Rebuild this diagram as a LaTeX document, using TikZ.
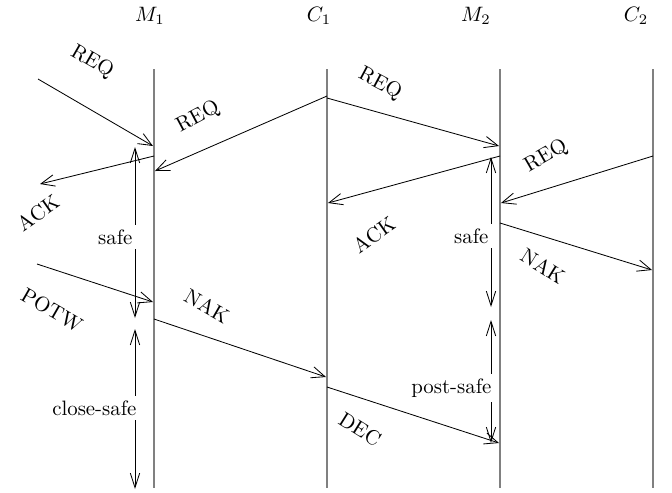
\documentclass[tikz,border=0pt]{standalone}
\usetikzlibrary{arrows.meta}
\begin{document}
\begin{tikzpicture}[x=0.48pt,y=-0.48pt,
  life/.style={draw=black!50, line width=1pt},
  msg/.style={draw, line width=0.4pt, -{Straight Barb[length=6.5pt,width=5.5pt]}},
  dur/.style={draw, line width=0.4pt, {Straight Barb[length=7pt,width=4.5pt]}-{Straight Barb[length=7pt,width=4.5pt]}},
  lbl/.style={inner sep=1pt},
  durlbl/.style={fill=white, anchor=east, inner sep=2pt}]
\useasboundingbox (0,0) rectangle (672,492);
% headers
\node (hM1) at (150,16) {$M_1$};
\node (hC1) at (319,16) {$C_1$};
\node (hM2) at (476,16) {$M_2$};
\node (hC2) at (636,16) {$C_2$};
% lifelines
\coordinate (M1t) at (154,69); \coordinate (M1b) at (154,488);
\coordinate (C1t) at (327,69); \coordinate (C1b) at (327,488);
\coordinate (M2t) at (500,69); \coordinate (M2b) at (500,488);
\coordinate (C2t) at (653,69); \coordinate (C2b) at (653,488);
\draw[life] (M1t) -- (M1b);
\draw[life] (C1t) -- (C1b);
\draw[life] (M2t) -- (M2b);
\draw[life] (C2t) -- (C2b);
% messages
\coordinate (r1s) at (38,79);   \coordinate (r1e) at (153,146);
\coordinate (r2s) at (327,96);  \coordinate (r2e) at (155,171);
\coordinate (a1s) at (154,156); \coordinate (a1e) at (40,184);
\coordinate (r3s) at (327,98);  \coordinate (r3e) at (499,146);
\coordinate (a2s) at (500,156); \coordinate (a2e) at (328,203);
\coordinate (r6s) at (653,156); \coordinate (r6e) at (501,203);
\coordinate (n7s) at (500,223); \coordinate (n7e) at (652,270);
\coordinate (ps) at (37,264);   \coordinate (pe) at (153,302);
\coordinate (n9s) at (154,319); \coordinate (n9e) at (326,377);
\coordinate (ds) at (327,387);  \coordinate (de) at (499,443);
\draw[msg] (r1s) -- (r1e);
\draw[msg] (r2s) -- (r2e);
\draw[msg] (a1s) -- (a1e);
\draw[msg] (r3s) -- (r3e);
\draw[msg] (a2s) -- (a2e);
\draw[msg] (r6s) -- (r6e);
\draw[msg] (n7s) -- (n7e);
\draw[msg] (ps) -- (pe);
\draw[msg] (n9s) -- (n9e);
\draw[msg] (ds) -- (de);
% message labels
\node[lbl, rotate=-30] (lr1) at (92,62) {REQ};
\node[lbl, rotate=28] (lr2) at (198,117) {REQ};
\node[lbl, rotate=-28] (lr3) at (380,84) {REQ};
\node[lbl, rotate=35] (la1) at (38,213) {ACK};
\node[lbl, rotate=35] (la2) at (374,235) {ACK};
\node[lbl, rotate=30] (lr6) at (546,156) {REQ};
\node[lbl, rotate=-32] (ln7) at (543,266) {NAK};
\node[lbl, rotate=-30] (lp) at (52,310) {POTW};
\node[lbl, rotate=-30] (ln9) at (207,306) {NAK};
\node[lbl, rotate=-32] (ld) at (360,429) {DEC};
% durations
\coordinate (sAt) at (135,147); \coordinate (sAb) at (135,318);
\coordinate (cst) at (135,329); \coordinate (csb) at (135,489);
\coordinate (sBt) at (491,157); \coordinate (sBb) at (491,307);
\coordinate (pst) at (491,320); \coordinate (psb) at (491,443);
\draw[dur] (sAt) -- (sAb);
\draw[dur] (cst) -- (csb);
\draw[dur] (sBt) -- (sBb);
\draw[dur] (pst) -- (psb);
\node[durlbl] (lsA) at (137,237) {safe};
\node[durlbl] (lcs) at (141,408) {close-safe};
\node[durlbl] (lsB) at (493,236) {safe};
\node[durlbl] (lps) at (496,388) {post-safe};
\end{tikzpicture}
\end{document}
